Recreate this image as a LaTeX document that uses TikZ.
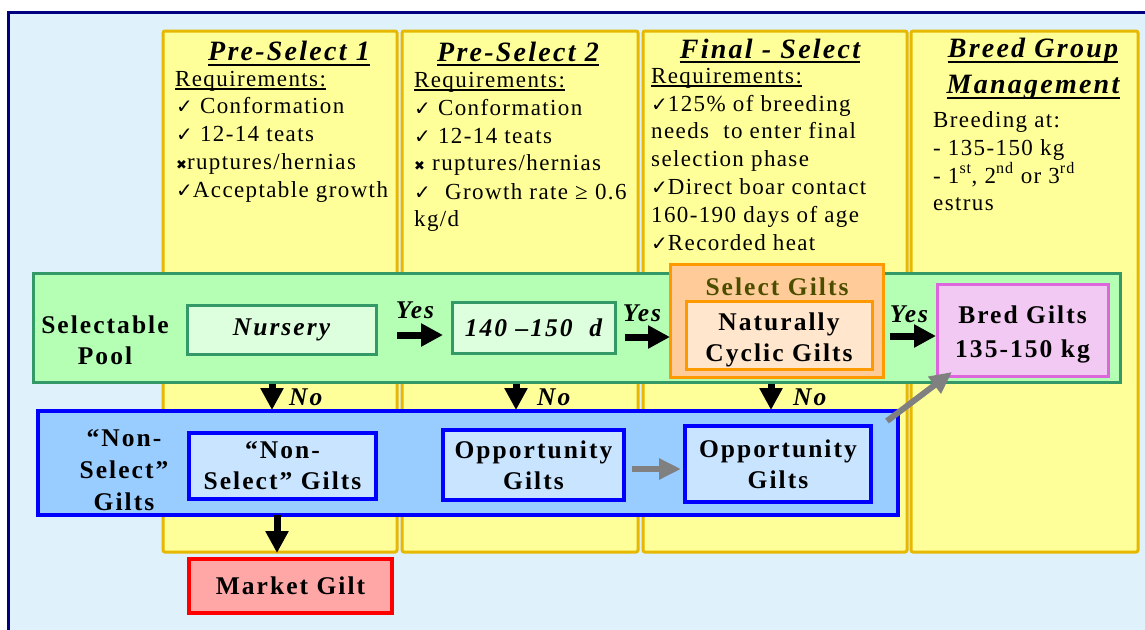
\documentclass[tikz,border=0pt]{standalone}
\usepackage{fontspec}
\usetikzlibrary{arrows.meta,calc}
\setmainfont{Liberation Serif}[LetterSpace=6]
\newfontfamily\bsp{Liberation Serif}[LetterSpace=8]
\newfontfamily\tsp{Liberation Serif}[LetterSpace=8]
\newfontfamily\symf{DejaVu Sans}
\newcommand\ck{{\symf\fontsize{20}{20}\selectfont ✓}}
\newcommand\xm{{\symf\fontsize{13}{13}\selectfont ✖}}
\newcommand\bfs{\bsp\bfseries\fontsize{25.5}{31}\selectfont}
\definecolor{bgblue}{RGB}{223,242,251}
\definecolor{navy}{RGB}{0,0,128}
\definecolor{gold}{RGB}{230,184,0}
\definecolor{ytop}{RGB}{255,255,153}
\definecolor{ymid}{RGB}{255,255,206}
\definecolor{pgreen}{RGB}{181,255,181}
\definecolor{dgreen}{RGB}{51,153,102}
\definecolor{lgreen}{RGB}{221,255,221}
\definecolor{orfill}{RGB}{255,204,153}
\definecolor{orline}{RGB}{255,153,0}
\definecolor{orin}{RGB}{255,230,204}
\definecolor{olive}{RGB}{77,77,0}
\definecolor{pinkf}{RGB}{242,201,242}
\definecolor{pinkl}{RGB}{221,102,221}
\definecolor{bband}{RGB}{153,204,255}
\definecolor{bin}{RGB}{200,228,255}
\definecolor{mred}{RGB}{255,166,166}
\definecolor{garr}{RGB}{128,128,128}
\tikzset{
  col/.style={draw=gold, line width=3pt, top color=ytop, middle color=ymid, bottom color=ytop, rounded corners=2pt, outer sep=0pt, inner sep=0pt},
  band/.style={line width=3pt, outer sep=0pt, inner sep=0pt},
  bx/.style={line width=3pt, outer sep=0pt, inner sep=0pt, align=center, font=\bfs},
  title/.style={inner sep=0pt, anchor=base, font=\tsp\bfseries\itshape\fontsize{28}{32}\selectfont},
  req/.style={inner sep=0pt, anchor=base west, font=\fontsize{23}{28}\selectfont},
  body/.style={inner sep=0pt, anchor=base west, font=\fontsize{23}{28}\selectfont},
  lbl/.style={inner sep=0pt, anchor=base, font=\bfs\itshape},
  lblw/.style={inner sep=0pt, anchor=base west, font=\bfs\itshape},
  barrow/.style={line width=7pt, -{Triangle[length=22pt,width=22pt]}},
  garrow/.style={garr, line width=6pt, -{Triangle[length=22pt,width=20pt]}},
  uline/.style={line width=2.5pt},
  ulthin/.style={line width=1.3pt}
}
\begin{document}
\begin{tikzpicture}[x=1pt,y=-1pt]
\useasboundingbox (0,0) rectangle (1145,629);
\fill[white] (0,0) rectangle (1145,629);
\draw[navy, line width=3pt, fill=bgblue] (8,12.5) rectangle (1170,650);
% columns
\node[col, minimum width=234pt, minimum height=521pt] (c1) at (280,291.5) {};
\node[col, minimum width=236pt, minimum height=521pt] (c2) at (520,291.5) {};
\node[col, minimum width=264pt, minimum height=521pt] (c3) at (775,291.5) {};
\node[col, minimum width=227pt, minimum height=521pt] (c4) at (1024.5,291.5) {};
% column 1
\node[title] (t1) at (289,60) {Pre-Select 1};
\draw[uline] ($(t1.base west)+(0,5)$) -- ($(t1.base east)+(0,5)$);
\node[req] (r1) at (175,86) {Requirements:};
\draw[ulthin] ($(r1.base west)+(0,3)$) -- ($(r1.base east)+(0,3)$);
\node[body] (a1) at (176,113) {\ck\ Conformation};
\node[body] (a2) at (176,141.5) {\ck\ 12-14 teats};
\node[body] (a3) at (176,169) {\xm{}ruptures/hernias};
\node[body] (a4) at (176,197) {\ck Acceptable growth};
% column 2
\node[title] (t2) at (518,61) {Pre-Select 2};
\draw[uline] ($(t2.base west)+(0,4)$) -- ($(t2.base east)+(0,4)$);
\node[req] (r2) at (414,87) {Requirements:};
\draw[ulthin] ($(r2.base west)+(0,3)$) -- ($(r2.base east)+(0,3)$);
\node[body] (b1) at (414,115) {\ck\ Conformation};
\node[body] (b2) at (414,143) {\ck\ 12-14 teats};
\node[body] (b3) at (414,170) {\xm\ ruptures/hernias};
\node[body] (b4) at (414,199) {\ck\ \ Growth rate ≥ 0.6};
\node[body] (b5) at (414,226) {kg/d};
% column 3
\node[title] (t3) at (770,58) {Final - Select};
\draw[uline] ($(t3.base west)+(0,4)$) -- ($(t3.base east)+(0,4)$);
\node[req] (r3) at (651,83) {Requirements:};
\draw[ulthin] ($(r3.base west)+(0,3)$) -- ($(r3.base east)+(0,3)$);
\node[body] (d1) at (651,111) {\ck 125\% of breeding};
\node[body] (d2) at (651,138) {needs~ to enter final};
\node[body] (d3) at (651,166) {selection phase};
\node[body] (d4) at (651,194) {\ck Direct boar contact};
\node[body] (d5) at (651,222) {160-190 days of age};
\node[body] (d6) at (651,250) {\ck Recorded heat};
% column 4
\node[title] (t4a) at (1033,57) {Breed Group};
\draw[uline] ($(t4a.base west)+(0,5)$) -- ($(t4a.base east)+(0,5)$);
\node[title] (t4b) at (1033,93) {Management};
\draw[uline] ($(t4b.base west)+(0,5)$) -- ($(t4b.base east)+(0,5)$);
\node[body] (e1) at (933,127) {Breeding at:};
\node[body] (e2) at (933,155) {- 135-150 kg};
\node[body] (e3) at (933,183) {- 1\textsuperscript{st}, 2\textsuperscript{nd} or 3\textsuperscript{rd}};
\node[body] (e4) at (933,210) {estrus};
% green band
\node[band, draw=dgreen, fill=pgreen, minimum width=1087pt, minimum height=109pt] (gp) at (576.5,327.5) {};
\node[inner sep=0pt, align=center, font=\bfs] (gpl) at (105,340) {Selectable\\Pool};
\node[bx, draw=dgreen, fill=lgreen, minimum width=189pt, minimum height=49pt, font=\bfs\itshape] (nur) at (281.5,329.5) {Nursery};
\node[bx, draw=dgreen, fill=lgreen, minimum width=163pt, minimum height=51pt, font=\bfs\itshape] (d140) at (533.5,327.5) {140 –150~~d};
\node[bx, draw=orline, fill=orfill, minimum width=213pt, minimum height=113pt] (sel) at (776.5,320.5) {};
\node[inner sep=0pt, anchor=base, text=olive, font=\bfs] (sell) at (777,295) {Select Gilts};
\node[bx, draw=orline, fill=orin, minimum width=186pt, minimum height=68pt] (nat) at (779,335) {\rule{0pt}{28pt}Naturally\\Cyclic Gilts};
\node[bx, draw=pinkl, fill=pinkf, minimum width=171pt, minimum height=92pt, font=\bsp\bfseries\fontsize{25.5}{34}\selectfont] (bred) at (1022.5,330) {\rule{0pt}{26pt}Bred Gilts\\135-150 kg};
% blue band
\node[band, draw=blue, fill=bband, line width=3.5pt, minimum width=860pt, minimum height=104pt] (bb) at (468,463) {};
\node[inner sep=0pt, align=center, font=\bsp\bfseries\fontsize{25.5}{32}\selectfont] (bbl) at (124,470) {“Non-\\Select”\\Gilts};
\node[bx, draw=blue, fill=bin, line width=4pt, minimum width=187pt, minimum height=66pt] (ns) at (282.5,466) {“Non-\\Select” Gilts};
\node[bx, draw=blue, fill=bin, line width=4pt, minimum width=181pt, minimum height=70pt] (op1) at (533.5,465) {Opportunity\\Gilts};
\node[bx, draw=blue, fill=bin, line width=4pt, minimum width=186pt, minimum height=76pt] (op2) at (778,464) {Opportunity\\Gilts};
\node[bx, draw=red, fill=mred, line width=4pt, minimum width=203pt, minimum height=54pt] (mk) at (290.5,586) {Market Gilt};
% yes arrows
\draw[barrow] ($(nur.east)+(21,5.5)$) -- ($(d140.west)+(-9,7.5)$);
\draw[barrow] ($(d140.east)+(10,9.5)$) -- ($(sel.west)+(0,16.5)$);
\draw[barrow] ($(sel.east)+(7,15.5)$) -- ($(bred.west)+(-1,6)$);
\node[lbl] (y1) at (415,318) {Yes};
\node[lbl] (y2) at (642,321) {Yes};
\node[lbl] (y3) at (909,322) {Yes};
% no arrows
\draw[barrow] ($(nur.south)+(-9.5,30)$) -- ($(ns.north)+(-10.5,-23)$);
\draw[barrow] ($(d140.south)+(-17.5,31)$) -- ($(op1.north)+(-17.5,-20)$);
\draw[barrow] ($(sel.south)+(-5.5,7)$) -- ($(op2.north)+(-7,-16)$);
\node[lblw] (n1) at (289,405) {No};
\node[lblw] (n2) at (537,405) {No};
\node[lblw] (n3) at (793,405) {No};
% market arrow
\draw[barrow] ($(ns.south)+(-5.5,16)$) -- ($(mk.north)+(-13.5,-6)$);
% gray arrows
\draw[garrow] ($(op1.east)+(8,4)$) -- ($(op2.west)+(-4,5)$);
\draw[garrow] ($(bb.north east)+(-11,10)$) -- ($(bred.south west)+(15,-4)$);
\end{tikzpicture}
\end{document}
